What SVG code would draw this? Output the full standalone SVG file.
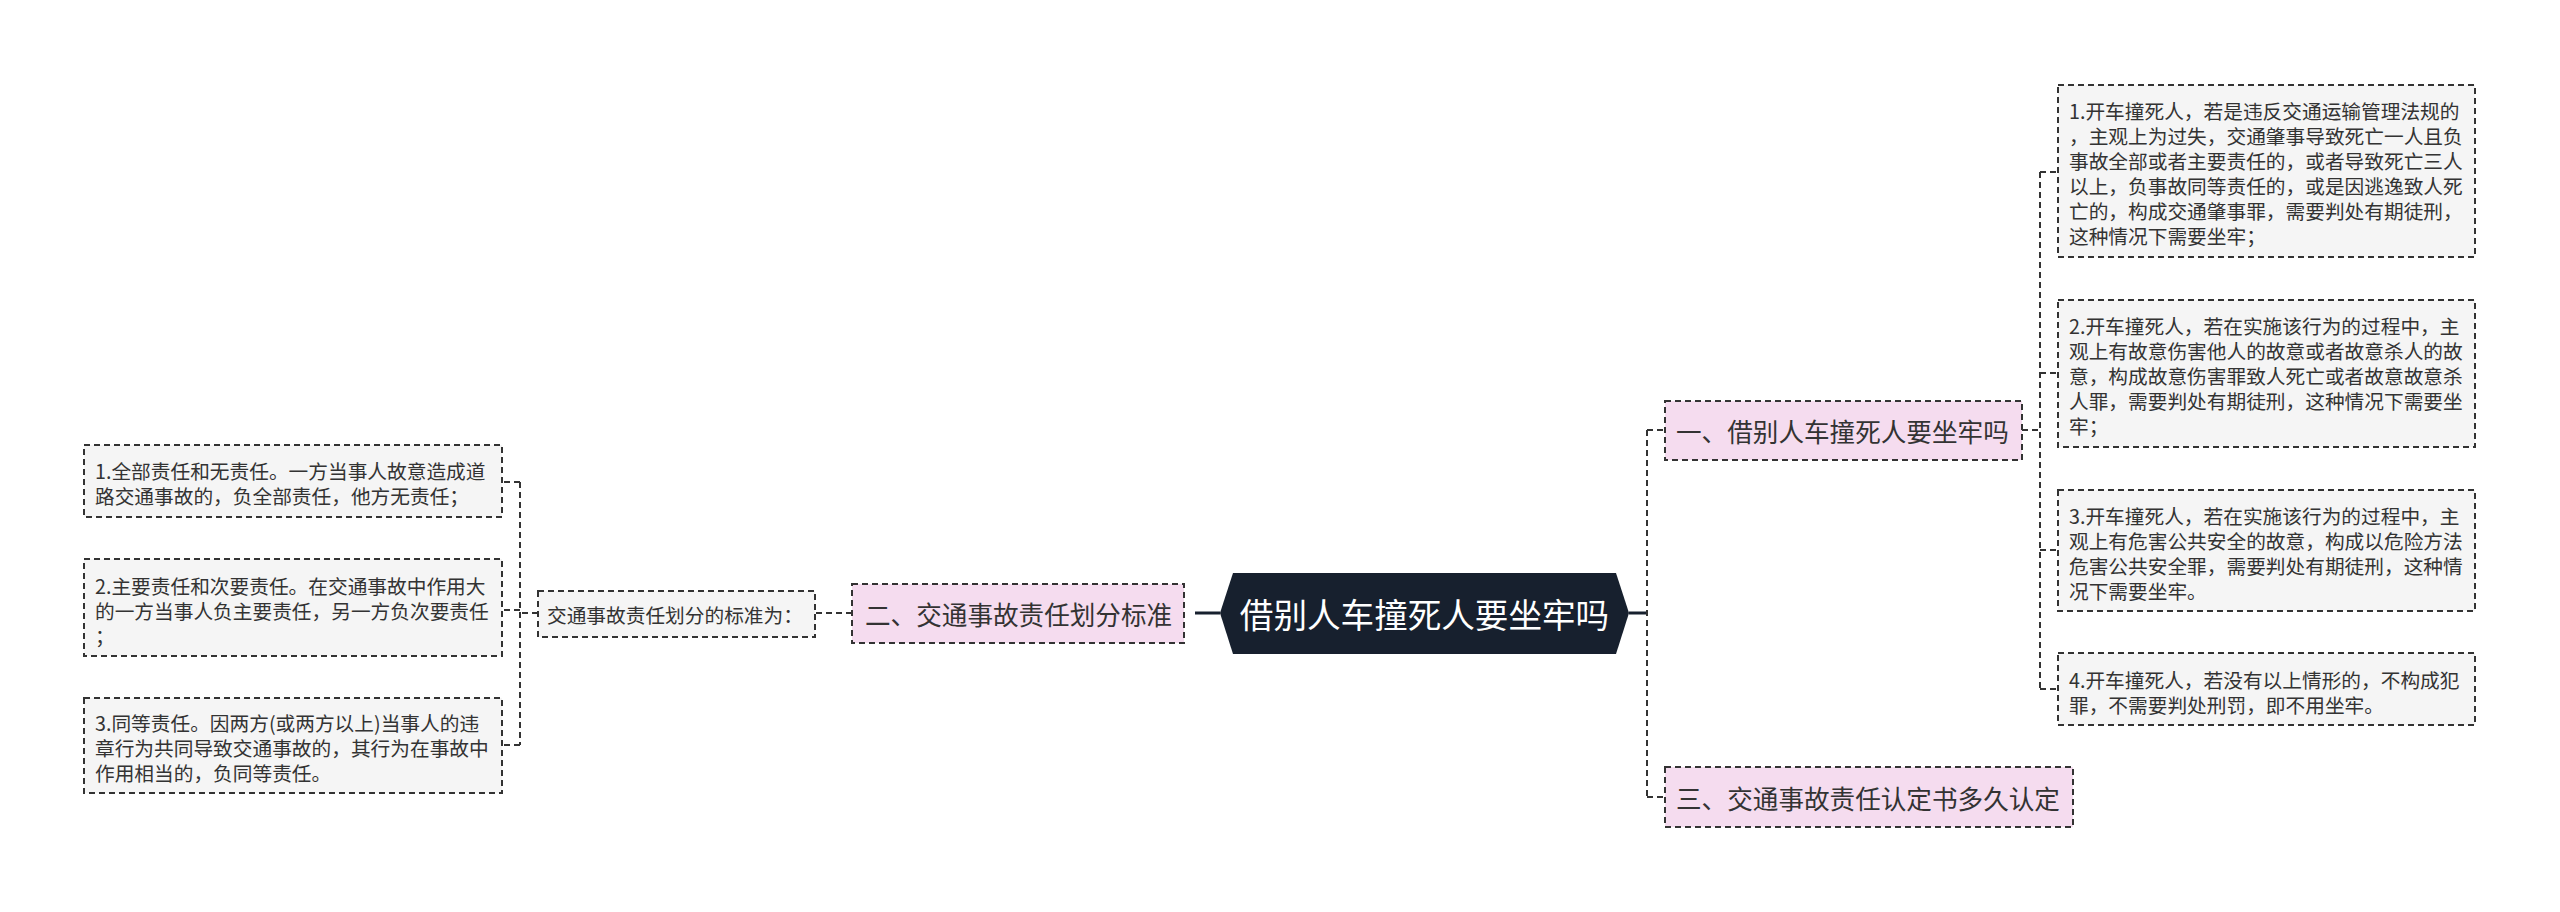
<svg xmlns="http://www.w3.org/2000/svg" width="2560" height="912" viewBox="0 0 2560 912">
<style>
text{font-family:"Noto Sans CJK SC","Noto Sans",sans-serif;dominant-baseline:central;}
.leaf rect{fill:#f5f5f5;stroke:#333;stroke-width:2;stroke-dasharray:6 4;}
.leaf text{font-size:19.7px;fill:#333;}
.l1 rect{fill:#f5dcef;stroke:#333;stroke-width:2;stroke-dasharray:6 4;}
.l1 text{font-size:25.6px;fill:#333;}
.dash{fill:none;stroke:#333;stroke-width:2;stroke-dasharray:6 4;}
.solid{fill:none;stroke:#17202e;stroke-width:3;}
</style>
<rect width="2560" height="912" fill="#fff"/>
<g id="connectors">
<path class="solid" d="M1195 613H1220M1629 613H1647"/>
<path class="dash" d="M1647 430V797M1647 430H1665M1647 797H1665"/>
<path class="dash" d="M2022 430H2040M2040 172V689M2040 172H2058M2040 373H2058M2040 550H2058M2040 689H2058"/>
<path class="dash" d="M852 613H815M538 613H520M520 482V745M520 482H502M520 610H502M520 745H502"/>
</g>
<g id="center">
<polygon points="1220,613 1233,573 1616,573 1629,613 1616,654 1233,654" fill="#17202e"/>
<text x="1424.5" y="613" font-size="33.6" fill="#fff" text-anchor="middle">借别人车撞死人要坐牢吗</text>
</g>
<g id="n1" class="l1">
<rect x="1665" y="401" width="357" height="59"/>
<text x="1676" y="430">一、借别人车撞死人要坐牢吗</text>
</g>
<g id="n2" class="l1">
<rect x="852" y="584" width="332" height="59"/>
<text x="865" y="613">二、交通事故责任划分标准</text>
</g>
<g id="n3" class="l1">
<rect x="1665" y="767" width="408" height="60"/>
<text x="1676" y="797">三、交通事故责任认定书多久认定</text>
</g>
<g id="r1" class="leaf">
<rect x="2058" y="85" width="417" height="172"/>
<text x="2069" y="110">1.开车撞死人，若是违反交通运输管理法规的</text>
<text x="2069" y="135">，主观上为过失，交通肇事导致死亡一人且负</text>
<text x="2069" y="160">事故全部或者主要责任的，或者导致死亡三人</text>
<text x="2069" y="185">以上，负事故同等责任的，或是因逃逸致人死</text>
<text x="2069" y="210">亡的，构成交通肇事罪，需要判处有期徒刑，</text>
<text x="2069" y="235">这种情况下需要坐牢；</text>
</g>
<g id="r2" class="leaf">
<rect x="2058" y="300" width="417" height="147"/>
<text x="2069" y="325">2.开车撞死人，若在实施该行为的过程中，主</text>
<text x="2069" y="350">观上有故意伤害他人的故意或者故意杀人的故</text>
<text x="2069" y="375">意，构成故意伤害罪致人死亡或者故意故意杀</text>
<text x="2069" y="400">人罪，需要判处有期徒刑，这种情况下需要坐</text>
<text x="2069" y="425">牢；</text>
</g>
<g id="r3" class="leaf">
<rect x="2058" y="490" width="417" height="121"/>
<text x="2069" y="515">3.开车撞死人，若在实施该行为的过程中，主</text>
<text x="2069" y="540">观上有危害公共安全的故意，构成以危险方法</text>
<text x="2069" y="565">危害公共安全罪，需要判处有期徒刑，这种情</text>
<text x="2069" y="590">况下需要坐牢。</text>
</g>
<g id="r4" class="leaf">
<rect x="2058" y="653" width="417" height="72"/>
<text x="2069" y="679">4.开车撞死人，若没有以上情形的，不构成犯</text>
<text x="2069" y="704">罪，不需要判处刑罚，即不用坐牢。</text>
</g>
<g id="std" class="leaf">
<rect x="538" y="591" width="277" height="46"/>
<text x="547" y="614">交通事故责任划分的标准为：</text>
</g>
<g id="l1" class="leaf">
<rect x="84" y="445" width="418" height="72"/>
<text x="95" y="470">1.全部责任和无责任。一方当事人故意造成道</text>
<text x="95" y="495">路交通事故的，负全部责任，他方无责任；</text>
</g>
<g id="l2" class="leaf">
<rect x="84" y="559" width="418" height="97"/>
<text x="95" y="585">2.主要责任和次要责任。在交通事故中作用大</text>
<text x="95" y="610">的一方当事人负主要责任，另一方负次要责任</text>
<text x="95" y="635">；</text>
</g>
<g id="l3" class="leaf">
<rect x="84" y="698" width="418" height="95"/>
<text x="95" y="722">3.同等责任。因两方(或两方以上)当事人的违</text>
<text x="95" y="747">章行为共同导致交通事故的，其行为在事故中</text>
<text x="95" y="772">作用相当的，负同等责任。</text>
</g>
</svg>
